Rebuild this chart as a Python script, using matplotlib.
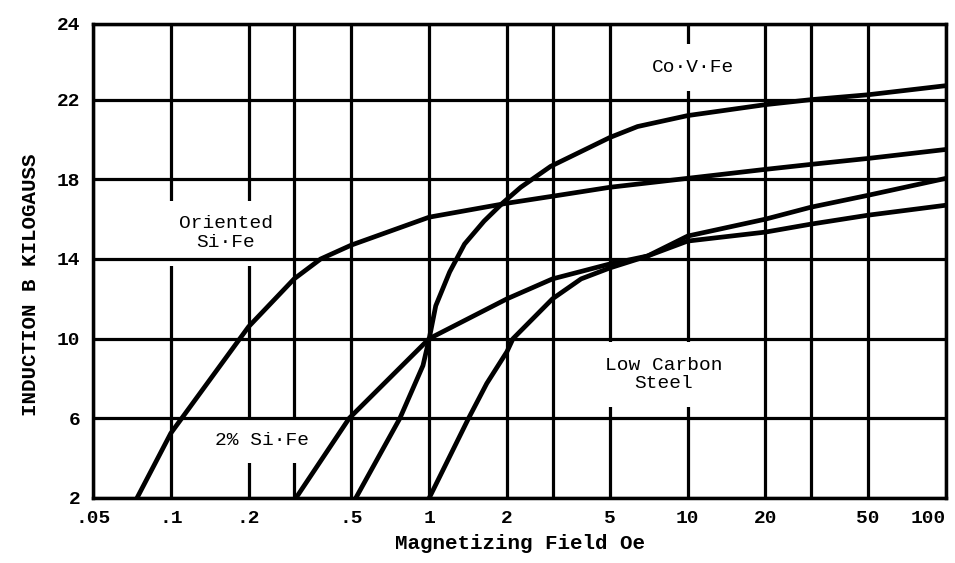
import numpy as np
import matplotlib
matplotlib.use("Agg")
import matplotlib.pyplot as plt

# B-H curves (H in oersted, B in kilogauss)
oriented_h = [0.074, 0.1, 0.2, 0.3, 0.38, 0.5, 1, 2, 3, 5, 10, 20, 30, 50, 100]
oriented_b = [2, 5.25, 10.6, 13.0, 14.0, 14.7, 16.1, 16.8, 17.15, 17.6, 18.05, 18.5, 18.75, 19.05, 19.5]

sife_h = [0.305, 0.49, 1, 2, 3, 5, 7, 10, 20, 30, 50, 100]
sife_b = [2, 6, 10, 12.0, 13.0, 13.75, 14.15, 14.9, 15.35, 15.75, 16.2, 16.7]

covfe_h = [0.52, 0.77, 0.946, 1.0, 1.06, 1.2, 1.37, 1.63, 1.92, 2.26, 2.95, 5, 6.4, 10, 20, 30, 50, 100]
covfe_b = [2, 6, 8.65, 10, 11.65, 13.35, 14.75, 15.9, 16.8, 17.6, 18.65, 20.1, 20.65, 21.2, 21.75, 22.0, 22.13, 22.37]

steel_h = [1.0, 1.42, 1.67, 2, 2.11, 3, 3.87, 5, 7, 10, 20, 30, 50, 100]
steel_b = [2, 6, 7.75, 9.35, 10, 12.0, 13.0, 13.55, 14.15, 15.15, 16.0, 16.6, 17.2, 18.05]

x_ticks = [0.05, 0.1, 0.2, 0.5, 1, 2, 5, 10, 20, 50, 100]
x_labels = [".05", ".1", ".2", ".5", "1", "2", "5", "10", "20", "50", "100"]
x_grid = [0.05, 0.1, 0.2, 0.3, 0.5, 1, 2, 3, 5, 10, 20, 30, 50, 100]
y_ticks = [2, 6, 10, 14, 18, 22, 24]

# the printed axis is uneven: the 22-24 band is almost as tall as a 4 kG band
_yv = [-1000, 2, 6, 10, 14, 18, 22, 24, 1000]
_yp = [-1002, 0, 4, 8, 12, 16, 20, 23.8, 23.8 + 976 * 1.9]

def fwd(v):
    return np.interp(v, _yv, _yp)

def inv(p):
    return np.interp(p, _yp, _yv)

plt.rcParams['font.family'] = ['Liberation Mono', 'DejaVu Sans Mono']

fig = plt.figure(figsize=(9.55, 5.63), dpi=100)
ax = fig.add_axes([0.0974, 0.1155, 0.8932, 0.8419])
ax.set_xscale('log')
ax.set_yscale('function', functions=(fwd, inv))
ax.set_xlim(0.05, 100)
ax.set_ylim(2, 24)

#grid: verticals under the label boxes, horizontals over them
for gx in x_grid:
    ax.axvline(gx, color='black', lw=2.3, zorder=1)
for gy in y_ticks:
    ax.axhline(gy, color='black', lw=2.3, zorder=3)

for h, b in [(oriented_h, oriented_b), (sife_h, sife_b),
             (covfe_h, covfe_b), (steel_h, steel_b)]:
    ax.plot(h, b, color='black', lw=3.4, solid_capstyle='butt', zorder=4)

box = dict(boxstyle='square,pad=0.75', fc='white', ec='none')
ax.text(0.163, 15.3, "Oriented\nSi\u00b7Fe", fontsize=14, ha='center', va='center',
        linespacing=1.15, bbox=box, zorder=2)
ax.text(0.225, 4.9, "2% Si\u00b7Fe", fontsize=14, ha='center', va='center',
        bbox=box, zorder=2)
ax.text(10.5, 22.85, "Co\u00b7V\u00b7Fe", fontsize=14, ha='center', va='center',
        bbox=box, zorder=2)
ax.text(8.1, 8.2, "Low Carbon\nSteel", fontsize=14, ha='center', va='center',
        linespacing=1.15, bbox=box, zorder=2)

ax.set_xticks(x_ticks)
ax.set_xticklabels(x_labels)
ax.xaxis.set_minor_locator(matplotlib.ticker.NullLocator())
ax.set_yticks(y_ticks)
ax.set_yticklabels([str(v) for v in y_ticks])
ax.yaxis.set_minor_locator(matplotlib.ticker.NullLocator())
ax.tick_params(length=0, labelsize=14, pad=9)
for lab in ax.get_xticklabels() + ax.get_yticklabels():
    lab.set_fontweight('bold')
ax.get_xticklabels()[-1].set_horizontalalignment('right')

for sp in ax.spines.values():
    sp.set_linewidth(2.5)
    sp.set_zorder(5)

ax.set_xlabel("Magnetizing Field Oe", fontsize=15, fontweight='bold', labelpad=5)
ax.set_ylabel("INDUCTION B KILOGAUSS", fontsize=15, fontweight='bold')
ax.yaxis.set_label_coords(-0.062, 0.45)

fig.savefig("out.png", dpi=100)
